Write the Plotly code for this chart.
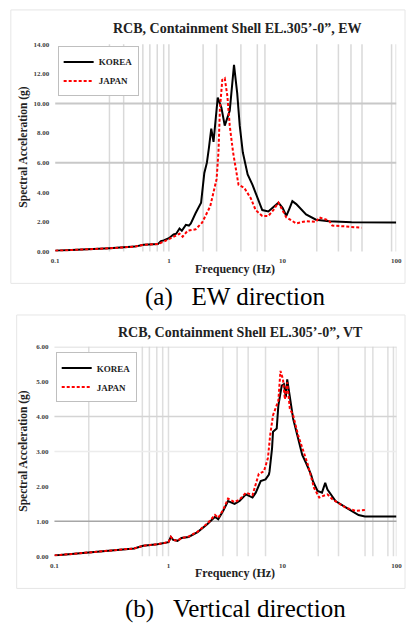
import plotly.graph_objects as go

# ---------------- data: panel (a) EW ----------------
ew_korea_f = [0.1, 0.15, 0.2, 0.3, 0.4, 0.5, 0.6, 0.7, 0.8, 0.85, 0.9, 1.0, 1.1, 1.16, 1.24, 1.3, 1.41, 1.5, 1.56, 1.72,
              1.92, 2.05, 2.16, 2.25, 2.36, 2.47, 2.6, 2.69, 2.9, 3.1, 3.43, 3.6, 3.74, 3.99, 4.2, 4.47, 4.7, 4.93, 5.44,
              6.0, 6.63, 7.5, 8.2, 9.2, 10.0, 10.8, 11.5, 12.2, 13.2, 16.1, 19.7, 25.6, 40.5, 100]
ew_korea_a = [0.05, 0.1, 0.15, 0.22, 0.28, 0.33, 0.45, 0.48, 0.5, 0.7, 0.75, 0.9, 1.15, 1.2, 1.55, 1.4, 1.8, 1.75, 1.9, 2.6,
              3.3, 5.3, 6.0, 7.0, 8.3, 7.4, 9.0, 10.4, 9.7, 8.5, 9.5, 11.0, 12.6, 10.7, 8.5, 6.7, 5.8, 5.2, 4.5,
              3.6, 2.8, 2.7, 2.95, 3.3, 2.95, 2.4, 2.9, 3.4, 3.2, 2.5, 2.15, 2.05, 1.98, 1.95]

ew_japan_f = [0.1, 0.15, 0.2, 0.3, 0.4, 0.5, 0.6, 0.7, 0.8, 0.95, 1.08, 1.24, 1.32, 1.46, 1.72, 1.96, 2.31, 2.63, 2.73,
              2.81, 2.95, 3.1, 3.27, 3.43, 3.67, 3.9, 4.1, 4.6, 5.25, 5.8, 6.63, 7.5, 8.3, 9.2, 10.8, 13.2, 16.1,
              19.7, 21.0, 25.6, 27.4, 35.0, 49.5]
ew_japan_a = [0.05, 0.1, 0.15, 0.22, 0.28, 0.33, 0.45, 0.48, 0.5, 0.75, 0.97, 1.2, 1.0, 1.4, 1.5, 1.95, 3.05, 4.9, 6.7,
              9.6, 11.6, 11.7, 10.5, 8.5, 6.7, 5.6, 4.5, 4.3, 3.6, 2.8, 2.4, 2.4, 2.8, 3.3, 2.3, 1.9, 2.05,
              2.0, 2.3, 2.1, 1.75, 1.7, 1.6]

# ---------------- data: panel (b) VT ----------------
vt_korea_f = [0.1, 0.2, 0.3, 0.5, 0.6, 0.8, 1.0, 1.05, 1.1, 1.2, 1.3, 1.5, 1.8, 2.03, 2.2, 2.56, 2.73, 3.02, 3.33, 3.8,
              4.2, 4.78, 5.46, 5.83, 6.44, 7.1, 7.6, 7.7, 8.1, 8.26, 8.9, 9.2, 9.85, 10.3, 10.7, 11.0, 11.6, 12.4,
              13.7, 14.9, 16.1, 17.8, 18.5, 20.3, 22.2, 23.7, 24.8, 29.2, 38.0, 46.5, 52.8, 100]
vt_korea_a = [0.02, 0.1, 0.15, 0.22, 0.3, 0.34, 0.4, 0.55, 0.47, 0.44, 0.52, 0.55, 0.69, 0.83, 0.92, 1.13, 1.06, 1.3, 1.58, 1.5,
              1.58, 1.77, 1.68, 1.82, 2.15, 2.2, 2.34, 2.43, 3.09, 3.57, 3.66, 4.32, 4.89, 4.93, 4.56, 5.07, 4.56, 3.94,
              3.38, 2.9, 2.67, 2.34, 2.15, 1.87, 1.82, 2.1, 1.91, 1.58, 1.35, 1.18, 1.14, 1.14]

vt_japan_f = [0.1, 0.2, 0.3, 0.5, 0.6, 0.8, 1.0, 1.05, 1.1, 1.2, 1.3, 1.5, 1.8, 2.03, 2.2, 2.56, 2.73, 3.02, 3.33, 3.8,
              4.2, 4.78, 5.46, 6.2, 6.87, 7.45, 7.8, 8.26, 8.8, 9.2, 9.6, 10.1, 10.5, 11.0, 11.6, 12.4, 13.7, 15.2,
              16.7, 18.9, 21.0, 22.5, 24.8, 27.4, 35.5, 43.3, 52.8]
vt_japan_a = [0.02, 0.1, 0.15, 0.22, 0.3, 0.34, 0.4, 0.55, 0.47, 0.44, 0.52, 0.56, 0.7, 0.85, 0.94, 1.18, 1.1, 1.33, 1.65, 1.55,
              1.62, 1.82, 1.75, 2.36, 2.43, 2.81, 3.47, 4.04, 4.27, 4.46, 5.31, 5.07, 4.5, 4.98, 4.23, 4.04, 3.47, 3.0,
              2.62, 1.96, 1.68, 1.72, 1.77, 1.63, 1.4, 1.3, 1.32]

# ---------------- text / ticks ----------------
series_names = ["KOREA", "JAPAN"]
title_a = "RCB, Containment Shell EL.305’-0”, EW"
title_b = "RCB, Containment Shell EL.305’-0”, VT"
caption_a = "(a)\u00a0\u00a0\u00a0EW direction"
caption_b = "(b)\u00a0\u00a0\u00a0Vertical direction"
x_title = "Frequency (Hz)"
y_title = "Spectral Acceleration (g)"
x_tickvals = [0.1, 1, 10, 100]
x_ticktext = ["0.1", "1", "10", "100"]
y_ticks_a = [0, 2, 4, 6, 8, 10, 12, 14]
y_ticks_b = [0, 1, 2, 3, 4, 5, 6]

# gridlines as visible in the reference
vgrid_a = [0.3, 0.4, 0.59, 0.68, 0.79, 0.9, 1.0, 2.0, 2.63, 4.3, 6.0, 7.0, 20, 31, 40, 50, 91, 100]
hgrid_a = [6, 10]
vgrid_b = [0.2, 0.59, 0.68, 0.79, 0.89, 1.0, 3.0, 4.0, 5.0, 7.1, 20.6, 31, 53, 62, 84, 94, 100]
hgrid_b = [(1, "#a6a6a6"), (3, "#ececec"), (4, "#d4d4d4"), (6, "#d4d4d4")]

SERIF = "Liberation Serif"
W, H = 411, 626

fig = go.Figure()

def add_panel(xa, ya, kf, ka, jf, ja, legend):
    fig.add_trace(go.Scatter(x=kf, y=ka, mode="lines", name=series_names[0], xaxis=xa, yaxis=ya,
                             line=dict(color="black", width=2), legend=legend))
    fig.add_trace(go.Scatter(x=jf, y=ja, mode="lines", name=series_names[1], xaxis=xa, yaxis=ya,
                             line=dict(color="#ff0000", width=2, dash="3px,2px"), legend=legend))

add_panel("x", "y", ew_korea_f, ew_korea_a, ew_japan_f, ew_japan_a, "legend")
add_panel("x2", "y2", vt_korea_f, vt_korea_a, vt_japan_f, vt_japan_a, "legend2")

shapes = []
for v in vgrid_a:
    shapes.append(dict(type="line", xref="x", yref="y domain", x0=v, x1=v, y0=0, y1=1,
                       line=dict(color="#d9d9d9", width=1.5), layer="below"))
for v in hgrid_a:
    shapes.append(dict(type="line", xref="x domain", yref="y", x0=0, x1=1, y0=v, y1=v,
                       line=dict(color="#c8c8c8", width=2), layer="below"))
for v in vgrid_b:
    shapes.append(dict(type="line", xref="x2", yref="y2 domain", x0=v, x1=v, y0=0, y1=1,
                       line=dict(color="#dedede", width=1.5), layer="below"))
for v, c in hgrid_b:
    shapes.append(dict(type="line", xref="x2 domain", yref="y2", x0=0, x1=1, y0=v, y1=v,
                       line=dict(color=c, width=1.5), layer="below"))
# chart-area borders
shapes.append(dict(type="rect", xref="paper", yref="paper", x0=7 / W, x1=1, y0=1 - 283 / H, y1=1 - 6 / H,
                   line=dict(color="#e6e6e6", width=1), layer="below"))
shapes.append(dict(type="rect", xref="paper", yref="paper", x0=13 / W, x1=1, y0=1 - 592 / H, y1=1 - 315 / H,
                   line=dict(color="#e6e6e6", width=1), layer="below"))

tickfont = dict(family=SERIF, size=7, color="#404040", weight="bold")
xcommon = dict(type="log", range=[-1, 2], tickvals=x_tickvals, ticktext=x_ticktext, showgrid=False,
               zeroline=False, showline=False, ticks="", tickfont=tickfont, ticklabelstandoff=4)
ycommon = dict(showgrid=False, zeroline=False, showline=False, ticks="", tickformat=".2f", tickfont=tickfont,
               ticklabelstandoff=5)

legfont = dict(family=SERIF, size=9, color="#222", weight="bold")
fig.update_layout(
    width=W, height=H, margin=dict(l=0, r=0, t=0, b=0),
    paper_bgcolor="white", plot_bgcolor="white",
    xaxis=dict(domain=[52.5 / W, 402 / W], anchor="y", **xcommon),
    yaxis=dict(domain=[1 - 250.7 / H, 1 - 40.7 / H], anchor="x", range=[0, 14], tickvals=y_ticks_a, **ycommon),
    xaxis2=dict(domain=[51.7 / W, 402.3 / W], anchor="y2", **xcommon),
    yaxis2=dict(domain=[1 - 559.3 / H, 1 - 347.3 / H], anchor="x2", range=[0, 6], tickvals=y_ticks_b, **ycommon),
    shapes=shapes,
    legend=dict(x=55 / W, y=1 - 43 / H, xanchor="left", yanchor="top", bgcolor="white",
                bordercolor="#bfbfbf", borderwidth=1, font=legfont, itemwidth=30),
    legend2=dict(x=53 / W, y=1 - 353 / H, xanchor="left", yanchor="top", bgcolor="white",
                 bordercolor="#bfbfbf", borderwidth=1, font=legfont, itemwidth=30),
)

def note(text, xpx, ypx, size, color="#222", angle=0, bold=True):
    return dict(text=text, x=xpx / W, y=1 - ypx / H, xref="paper", yref="paper",
                xanchor="center", yanchor="middle", showarrow=False, textangle=angle,
                font=dict(family=SERIF, size=size, color=color, weight="bold" if bold else "normal"))

ann = [
    note(title_a, 239, 25, 14),
    note(title_b, 242, 333, 14),
    note(y_title, 20, 145, 11.5, angle=-90),
    note(y_title, 20, 453, 11.5, angle=-90),
    note(x_title, 237, 268, 12),
    note(x_title, 237, 576, 12),
    note(caption_a, 237, 297, 25, color="black", bold=False),
    note(caption_b, 237.5, 613, 25, color="black", bold=False),
]
fig.update_layout(annotations=ann)

fig.write_html("out.html", config={"displayModeBar": False},
               post_script="document.body.style.margin='0';")
